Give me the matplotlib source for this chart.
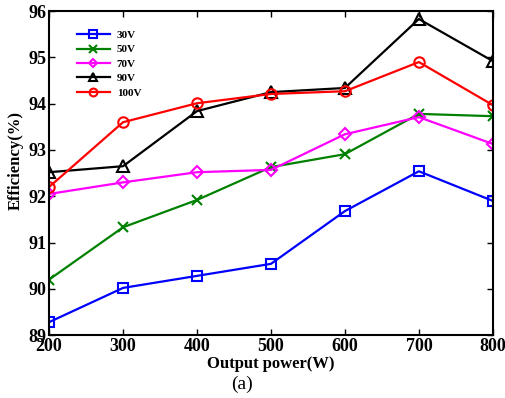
import matplotlib
matplotlib.use('Agg')
import matplotlib.pyplot as plt

plt.rcParams['font.family'] = ['Liberation Serif', 'DejaVu Serif']

power = [200, 300, 400, 500, 600, 700, 800]
eff_30v = [89.28, 90.02, 90.28, 90.54, 91.68, 92.54, 91.90]
eff_50v = [90.20, 91.33, 91.92, 92.63, 92.91, 93.78, 93.73]
eff_70v = [92.05, 92.30, 92.52, 92.57, 93.34, 93.71, 93.13]
eff_90v = [92.52, 92.65, 93.84, 94.25, 94.34, 95.83, 94.92]
eff_100v = [92.20, 93.60, 94.01, 94.21, 94.27, 94.90, 93.97]

series = [
    ('30V', eff_30v, 'blue', 's', 7),
    ('50V', eff_50v, 'green', 'x', 7),
    ('70V', eff_70v, 'magenta', 'D', 6),
    ('90V', eff_90v, 'black', '^', 8),
    ('100V', eff_100v, 'red', 'o', 7.5),
]

fig = plt.figure(figsize=(5.06, 3.98), dpi=100)
ax = fig.add_axes([0.097, 0.158, 0.877, 0.814])

for label, vals, color, marker, ms in series:
    ax.plot(power, vals, color=color, marker=marker, lw=1.6, ms=ms,
            mfc='none', mec=color, mew=1.5, label=label)

ax.set_xlim(200, 800)
ax.set_ylim(89, 96)
ax.set_xticks(power)
ax.set_yticks(range(89, 97))
ax.tick_params(direction='in', top=True, right=True, length=4, width=1,
               labelsize=13, pad=2)
for lab in ax.get_xticklabels() + ax.get_yticklabels():
    lab.set_fontweight('bold')
for sp in ax.spines.values():
    sp.set_linewidth(1.5)

ax.set_xlabel('Output power(W)', fontsize=12, fontweight='bold', labelpad=1)
ax.set_ylabel('Efficiency(%)', fontsize=12, fontweight='bold')
ax.yaxis.set_label_coords(-0.058, 0.54)

leg = ax.legend(loc='upper left', bbox_to_anchor=(0.045, 0.965), frameon=False,
                prop={'weight': 'bold', 'size': 8}, handlelength=3.0,
                labelspacing=0.42, borderaxespad=0.3, markerscale=0.75,
                handletextpad=0.6)

fig.text(0.478, 0.012, '(a)', fontsize=14, ha='center', va='bottom')

fig.savefig('out.png', dpi=100)
